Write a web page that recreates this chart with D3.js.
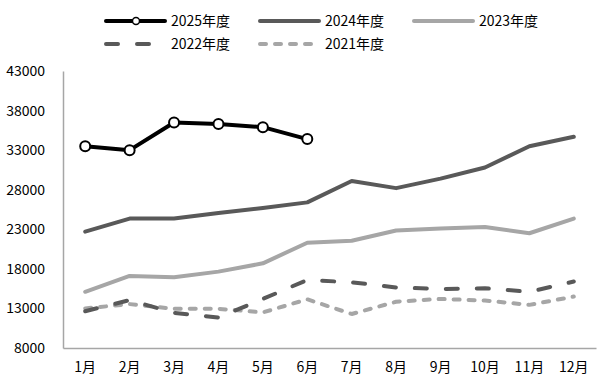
<!DOCTYPE html>
<html><head><meta charset="utf-8">
<script src="https://cdn.jsdelivr.net/npm/d3@7"></script>
<style>
body{margin:0;background:#fff;}
text{font-family:"Noto Sans CJK SC","Noto Sans",sans-serif;fill:#000;}
</style></head>
<body><svg id="c" width="605" height="390"></svg>
<script>
const months = ["1月","2月","3月","4月","5月","6月","7月","8月","9月","10月","11月","12月"];
const yTicks = [8000,13000,18000,23000,28000,33000,38000,43000];
const names = ["2025年度","2024年度","2023年度","2022年度","2021年度"];
const s2025 = [33500,33000,36500,36300,35900,34400];
const s2024 = [22700,24350,24350,25050,25700,26400,29100,28200,29400,30800,33500,34700];
const s2023 = [15100,17100,16950,17650,18700,21300,21550,22850,23100,23300,22500,24350];
const s2022 = [12650,14050,12450,11850,14200,16600,16300,15650,15450,15550,15100,16400];
const s2021 = [13000,13550,12950,12950,12500,14150,12300,13850,14200,14000,13450,14500];

const svg = d3.select("#c");
const x = d3.scaleBand().domain(months).range([63,596]);
const y = d3.scaleLinear().domain([8000,43000]).range([348,71]);
const cx = m => x(m)+x.bandwidth()/2;

const styles = [
  {data:s2025,color:"#000000",dash:null,marker:true},
  {data:s2024,color:"#595959",dash:null},
  {data:s2023,color:"#a6a6a6",dash:null},
  {data:s2022,color:"#595959",dash:"12,19"},
  {data:s2021,color:"#a6a6a6",dash:"6,9"}
];

// axes
const gy = svg.append("g").attr("transform","translate(63,0)")
  .call(d3.axisLeft(y).tickValues(yTicks).tickSize(0).tickPadding(18).tickFormat(d3.format("d")));
gy.select(".domain").attr("stroke","#a6a6a6").attr("stroke-width",1.5);
gy.selectAll("text").style("font-size","14px").attr("fill","#000");
const gx = svg.append("g").attr("transform","translate(0,348)")
  .call(d3.axisBottom(x).tickSize(0).tickPadding(14));
gx.select(".domain").attr("stroke","#a6a6a6").attr("stroke-width",1.5);
gx.selectAll("text").style("font-size","14px").attr("fill","#000");

const line = d3.line().x((d,i)=>cx(months[i])).y(d=>y(d));
// draw in back-to-front order
[4,3,2,1,0].forEach(k=>{
  const s = styles[k];
  svg.append("path").datum(s.data).attr("d",line).attr("fill","none")
    .attr("stroke",s.color).attr("stroke-width",4)
    .attr("stroke-linecap","round").attr("stroke-linejoin","round")
    .attr("stroke-dasharray",s.dash);
  if(s.marker){
    svg.selectAll(".mk").data(s.data).enter().append("circle")
      .attr("cx",(d,i)=>cx(months[i])).attr("cy",d=>y(d)).attr("r",5)
      .attr("fill","#fff").attr("stroke","#000").attr("stroke-width",2);
  }
});

// legend
const legPos = [[106,21],[260,21],[414,21],[106,44],[260,44]];
names.forEach((n,k)=>{
  const [lx,ly] = legPos[k];
  const s = styles[k];
  const g = svg.append("g");
  g.append("line").attr("x1",lx).attr("x2",lx+59).attr("y1",ly).attr("y2",ly)
    .attr("stroke",s.color).attr("stroke-width",4).attr("stroke-linecap","round")
    .attr("stroke-dasharray",s.dash);
  if(s.marker) g.append("circle").attr("cx",lx+30).attr("cy",ly).attr("r",3.5)
    .attr("fill","#fff").attr("stroke","#000").attr("stroke-width",1.5);
  g.append("text").attr("x",lx+65).attr("y",ly).attr("dy","0.35em")
    .style("font-size","14px").text(n);
});
</script></body></html>
